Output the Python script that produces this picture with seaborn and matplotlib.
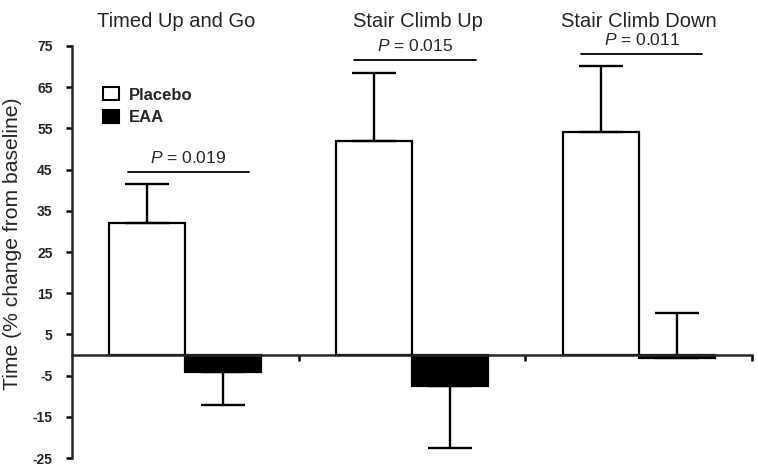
import pandas as pd
import matplotlib
matplotlib.use("Agg")
import matplotlib.pyplot as plt
from matplotlib.patches import Patch
import seaborn as sns

testes = ["Timed Up and Go", "Stair Climb Up", "Stair Climb Down"]
grupos = ["Placebo", "EAA"]
placebo = [32, 52, 54.2]
eaa = [-4, -7.5, -0.6]
erro_placebo = [9.5, 16.5, 15.8]
erro_eaa = [8.1, 15, 10.8]
p_valores = ["0.019", "0.015", "0.011"]
p_altura = [44.4, 71.6, 73.0]
yticks = [75, 65, 55, 45, 35, 25, 15, 5, -5, -15, -25]

df = pd.DataFrame({
    "Teste": testes * 2,
    "Grupo": ["Placebo"] * 3 + ["EAA"] * 3,
    "Valor": placebo + eaa,
})

sns.set_style("white")
plt.rcParams["font.family"] = ["Liberation Sans", "DejaVu Sans"]
plt.rcParams["mathtext.fontset"] = "custom"
plt.rcParams["mathtext.it"] = "Liberation Sans:italic"
plt.rcParams["mathtext.rm"] = "Liberation Sans"

fig = plt.figure(figsize=(7.58, 4.68), dpi=100)
ax = fig.add_axes([0.095, 0.021, 0.897, 0.881])

sns.barplot(data=df, x="Teste", y="Valor", hue="Grupo", order=testes,
            hue_order=grupos, palette=["white", "black"], width=0.67,
            errorbar=None, edgecolor="black", linewidth=1.6, legend=False, ax=ax)

# barras de erro (só para um lado)
barras = [p for p in ax.patches if p.get_width() > 0][:6]
for i, b in enumerate(barras):
    x = b.get_x() + b.get_width() / 2
    if i < 3:
        val, e, sup = placebo[i], erro_placebo[i], True
    else:
        val, e, sup = eaa[i - 3], erro_eaa[i - 3], (i - 3) == 2
    if sup:
        ax.errorbar(x, val, yerr=[[0], [e]], color="black", lw=1.7, capsize=16, capthick=1.7)
    else:
        ax.errorbar(x, val, yerr=[[e], [0]], color="black", lw=1.7, capsize=16, capthick=1.7)

# linhas de P e títulos
desvio_titulo = [-0.04, 0.025, 0.0]
for i in range(3):
    pl = barras[i]
    ea = barras[i + 3]
    x0 = pl.get_x() + pl.get_width() * 0.24
    x1 = ea.get_x() + ea.get_width() * 0.84
    ax.plot([x0, x1], [p_altura[i], p_altura[i]], color="black", lw=1.3, clip_on=False)
    ax.text((x0 + x1) / 2, p_altura[i] + 3.4, r"$\it{P}$ = " + p_valores[i],
            ha="center", va="center", fontsize=12.5, clip_on=False)
    ax.text(i + desvio_titulo[i], 81, testes[i], ha="center", va="center",
            fontsize=14.5, clip_on=False)

ax.set_xlim(-0.5, 2.5)
ax.set_ylim(-25, 75)
ax.set_yticks(yticks)
ax.set_yticklabels([str(t) for t in yticks], fontweight="bold", fontsize=10)
ax.set_xticks([0.5, 1.5, 2.5])
ax.set_xticklabels([])
ax.set_xlabel("")
ax.set_ylabel("Time (% change from baseline)", fontsize=15.2)
ax.yaxis.set_label_coords(-0.074, 0.52)

for s in ["top", "right"]:
    ax.spines[s].set_visible(False)
ax.spines["bottom"].set_position(("data", 0))
ax.spines["bottom"].set_linewidth(1.8)
ax.spines["left"].set_linewidth(1.8)
ax.tick_params(axis="both", direction="out", length=4, width=1.8, color="black",
               left=True, bottom=True)
ax.tick_params(axis="y", pad=10)

handles = [Patch(facecolor="white", edgecolor="black", linewidth=1.5, label="Placebo"),
           Patch(facecolor="black", edgecolor="black", linewidth=1.5, label="EAA")]
ax.legend(handles=handles, loc="upper left", bbox_to_anchor=(0.046, 0.9), frameon=False,
          borderpad=0, borderaxespad=0,
          prop={"weight": "bold", "size": 12}, handlelength=0.95, handleheight=0.85,
          handletextpad=0.6, labelspacing=0.45)

fig.savefig("out.png", dpi=100)
